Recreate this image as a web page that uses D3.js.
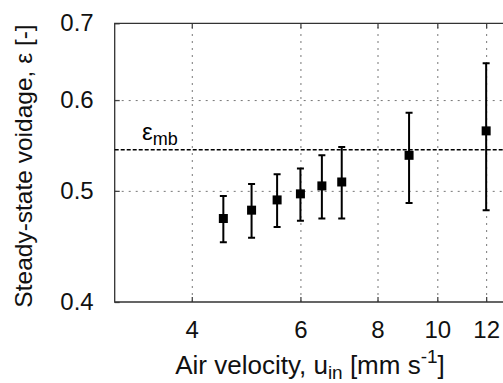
<!DOCTYPE html>
<html>
<head>
<meta charset="utf-8">
<script src="https://cdn.jsdelivr.net/npm/d3@7"></script>
<style>
  body { margin: 0; background: #fff; }
  svg { display: block; font-family: "Liberation Sans", Arial, sans-serif; }
</style>
</head>
<body>
<svg width="503" height="383"></svg>
<script>
// air velocity [mm/s] vs steady-state voidage
const velocity = [4.5, 5, 5.5, 6, 6.5, 7, 9, 12];
const voidage = [0.473, 0.481, 0.491, 0.497, 0.505, 0.509, 0.537, 0.564];
const errLow = [0.451, 0.455, 0.465, 0.471, 0.473, 0.473, 0.488, 0.481];
const errHigh = [0.495, 0.507, 0.517, 0.523, 0.537, 0.546, 0.585, 0.646];
const epsMb = 0.543;
const xTicks = [4, 6, 8, 10, 12];
const yTicks = [0.4, 0.5, 0.6, 0.7];
const yGrid = [0.5, 0.6];

const pLeft = 114.7, pRight = 507.6, pTop = 23.3, pBottom = 302;
const fs = 24;

const svg = d3.select("svg");
const x = d3.scaleLog().domain([3, 13]).range([pLeft, pRight]);
const y = d3.scaleLog().domain([0.4, 0.7]).range([pBottom, pTop]);

// grid
svg.append("g")
    .attr("transform", `translate(0,${pBottom})`)
    .call(d3.axisBottom(x).tickValues(xTicks).tickSize(-(pBottom - pTop)).tickFormat(""))
    .call(g => g.select(".domain").remove())
    .call(g => g.selectAll("line").attr("stroke", "#777").attr("stroke-dasharray", "2,5"));
svg.append("g")
    .attr("transform", `translate(${pLeft},0)`)
    .call(d3.axisLeft(y).tickValues(yGrid).tickSize(-(pRight - pLeft)).tickFormat(""))
    .call(g => g.select(".domain").remove())
    .call(g => g.selectAll("line").attr("stroke", "#777").attr("stroke-dasharray", "2,5"));

// axes with inner ticks
const xb = svg.append("g")
    .attr("transform", `translate(0,${pBottom})`)
    .call(d3.axisBottom(x).tickValues(xTicks).tickFormat(d3.format("d")).tickSize(-5).tickPadding(19));
const xt = svg.append("g")
    .attr("transform", `translate(0,${pTop})`)
    .call(d3.axisTop(x).tickValues(xTicks).tickFormat("").tickSize(-5));
const yl = svg.append("g")
    .attr("transform", `translate(${pLeft},0)`)
    .call(d3.axisLeft(y).tickValues(yTicks).tickFormat(d3.format(".1f")).tickSize(-5).tickPadding(21));
[xb, xt, yl].forEach(g => {
  g.select(".domain").remove();
  g.selectAll("line").attr("stroke", "#444").attr("stroke-width", 1.3);
  g.selectAll("text").attr("font-size", fs).attr("font-family", "Liberation Sans, Arial, sans-serif").attr("fill", "#111");
});

// frame
svg.append("path")
    .attr("d", `M${pRight},${pTop}H${pLeft}V${pBottom}H${pRight}`)
    .attr("fill", "none").attr("stroke", "#333").attr("stroke-width", 1.3);

// eps_mb line
svg.append("line")
    .attr("x1", pLeft).attr("x2", pRight)
    .attr("y1", y(epsMb)).attr("y2", y(epsMb))
    .attr("stroke", "#000").attr("stroke-width", 1.4).attr("stroke-dasharray", "4,2");
const lab = svg.append("text")
    .attr("x", 142).attr("y", y(epsMb) - 10)
    .attr("font-size", fs).attr("fill", "#000");
lab.append("tspan").text("ε");
lab.append("tspan").attr("font-size", 18).attr("dy", 5).text("mb");

// error bars and markers
const pts = velocity.map((v, i) => ({ v, e: voidage[i], lo: errLow[i], hi: errHigh[i] }));
const pg = svg.append("g");
pg.selectAll(".eb").data(pts).join("path")
    .attr("d", d => `M${x(d.v)},${y(d.lo)}V${y(d.hi)}M${x(d.v) - 3.5},${y(d.lo)}h7M${x(d.v) - 3.5},${y(d.hi)}h7`)
    .attr("fill", "none").attr("stroke", "#000").attr("stroke-width", 2);
pg.selectAll("rect").data(pts).join("rect")
    .attr("x", d => x(d.v) - 4.5).attr("y", d => y(d.e) - 4.5)
    .attr("width", 9).attr("height", 9).attr("fill", "#000");

// axis titles
const xl = svg.append("text")
    .attr("x", 310).attr("y", 374).attr("text-anchor", "middle")
    .attr("font-size", 26).attr("fill", "#111");
xl.append("tspan").text("Air velocity, u");
xl.append("tspan").attr("font-size", 19).attr("dy", 5).text("in");
xl.append("tspan").attr("dy", -5).text(" [mm s");
xl.append("tspan").attr("font-size", 19).attr("dy", -11).text("-1");
xl.append("tspan").attr("dy", 11).text("]");

svg.append("text")
    .attr("transform", "translate(32,166) rotate(-90)")
    .attr("text-anchor", "middle")
    .attr("font-size", 24.5).attr("fill", "#111")
    .text("Steady-state voidage, ε [-]");
</script>
</body>
</html>
